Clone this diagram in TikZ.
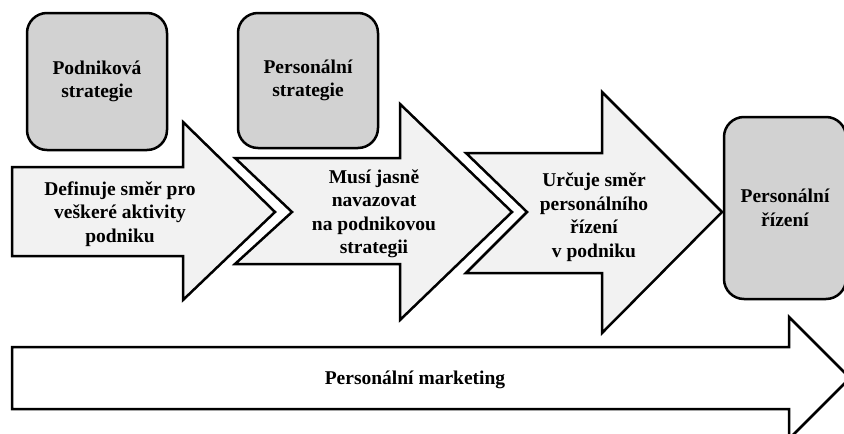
\documentclass[tikz,border=0pt]{standalone}
\usepackage{fontspec}
\setmainfont{Liberation Serif}
\usepackage{xcolor}
\usetikzlibrary{positioning, calc}
\definecolor{boxgray}{HTML}{D2D2D2}
\definecolor{arrowgray}{HTML}{F2F2F2}

\begin{document}
\begin{tikzpicture}[x=1pt, y=-1pt,
  txt/.style={align=center, font=\fontsize{19.5}{23.5}\selectfont\bfseries},
  stratbox/.style={txt, draw=black, line width=2.5pt, fill=boxgray, rounded corners=20pt},
  arrowshape/.style={draw=black, line width=2.5pt, fill=arrowgray, line join=miter}]
\useasboundingbox (0,0) rectangle (844,434);
\clip (0,0) rectangle (844,434);

% strategy boxes
\node[stratbox, minimum width=140pt, minimum height=137pt] (podnik) at (97,81.5) {Podniková\\strategie};
\node[stratbox, minimum width=140pt, minimum height=135pt] (perstrat) at (308,80.5) {Personální\\strategie};

% the three arrows
\draw[arrowshape] (12,167) -- (183,167) -- (183,122) -- (275,212) -- (183,300) -- (183,256) -- (12,256) -- cycle;
\draw[arrowshape] (235,158) -- (400,158) -- (400,104) -- (512,212) -- (400,320) -- (400,264) -- (235,264) -- (292,212) -- cycle;
\draw[arrowshape] (466,153) -- (602,153) -- (602,92) -- (722,212) -- (602,333) -- (602,273) -- (466,273) -- (527,212) -- cycle;

\node[txt] (definuje) at (120,214) {Definuje směr pro\\veškeré aktivity\\podniku};
\node[txt] (navazovat) at (374,214) {Musí jasně\\navazovat\\na podnikovou\\strategii};
\node[txt] (urcuje) at (594,217) {Určuje směr\\personálního\\řízení\\v podniku};

% target box
\node[stratbox, minimum width=122pt, minimum height=182pt] (rizeni) at (785,208) {Personální\\řízení};

% bottom arrow
\draw[arrowshape, fill=white] (12,347) -- (789,347) -- (789,317) -- (850,378) -- (789,439) -- (789,409) -- (12,409) -- cycle;
\node[txt] (marketing) at (415,380) {Personální marketing};
\end{tikzpicture}
\end{document}
